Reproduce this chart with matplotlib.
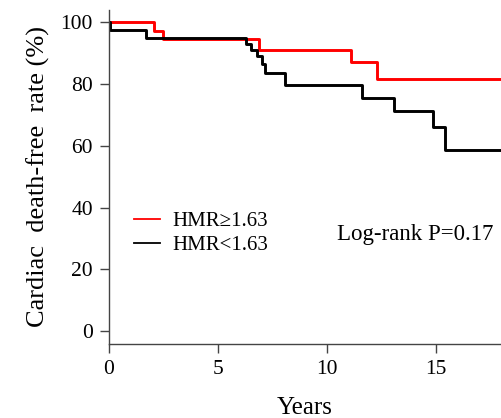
import matplotlib.pyplot as plt

# Kaplan-Meier style step curves
years_high = [0, 2.08, 2.47, 6.9, 11.12, 12.3, 18]
surv_high = [100, 97.2, 94.6, 91.2, 87.2, 81.8, 81.8]

years_low = [0, 0.05, 1.69, 6.3, 6.53, 6.79, 7.02, 7.17, 8.07, 11.64, 13.1, 14.9, 15.44, 18]
surv_low = [100, 97.5, 94.8, 92.9, 91.1, 89.0, 86.5, 83.6, 79.6, 75.5, 71.4, 66.0, 58.7, 58.7]

labels = ["HMR\u22651.63", "HMR<1.63"]
xticks = [0, 5, 10, 15]
yticks = [0, 20, 40, 60, 80, 100]

plt.rcParams['font.family'] = ['Liberation Serif', 'DejaVu Serif']

fig = plt.figure(figsize=(5.01, 4.18), dpi=100)
ax = fig.add_axes([0.2176, 0.178, 0.7824, 0.798])

ax.step(years_high, surv_high, where='post', color='#ff0000', lw=2.1, label=labels[0])
ax.step(years_low, surv_low, where='post', color='black', lw=2.1, label=labels[1])

ax.set_xlim(0, 18)
ax.set_ylim(-4, 104)
ax.set_xticks(xticks)
ax.set_yticks(yticks)

for s in ['top', 'right']:
    ax.spines[s].set_visible(False)
for s in ['left', 'bottom']:
    ax.spines[s].set_color('#444444')
    ax.spines[s].set_linewidth(1.0)
ax.tick_params(direction='out', length=6.5, width=1, color='#444444',
               labelsize=15.5)
ax.tick_params(axis='y', pad=5)
ax.tick_params(axis='x', pad=5)

ax.set_xlabel("Years", fontsize=18, labelpad=13)
ax.set_ylabel("Cardiac  death-free  rate (%)", fontsize=19, labelpad=8)

leg = ax.legend(loc='center left', bbox_to_anchor=(0.043, 0.33), frameon=False,
                fontsize=15, handlelength=1.25, handletextpad=0.6,
                labelspacing=0.2, borderaxespad=0)
for line in leg.get_lines():
    line.set_linewidth(1.3)

ax.text(14.06, 31.2, "Log-rank P=0.17", fontsize=16.5, ha='center', va='center')

fig.savefig("out.png", dpi=100)
